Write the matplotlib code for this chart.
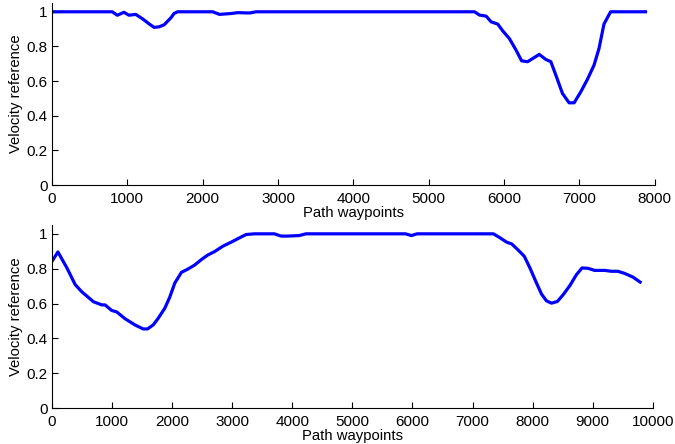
import matplotlib.pyplot as plt
import numpy as np

plt.rcParams["font.family"] = ["Liberation Sans", "DejaVu Sans"]

# Top path: waypoint index vs velocity reference
top_x = [0, 800, 867, 955, 1022, 1111, 1200, 1290, 1356, 1420, 1489, 1578, 1620, 1667,
         2133, 2222, 2378, 2467, 2622, 2711, 5608, 5674, 5762, 5828, 5916, 5982, 6070,
         6159, 6233, 6313, 6467, 6555, 6621, 6687, 6775, 6863, 6930, 7018, 7106, 7194,
         7260, 7326, 7414, 7877]
top_v = [1.0, 1.0, 0.98, 0.997, 0.98, 0.985, 0.96, 0.93, 0.91, 0.913, 0.925, 0.965, 0.99, 1.0,
         1.0, 0.985, 0.99, 0.995, 0.993, 1.0, 1.0, 0.981, 0.975, 0.942, 0.929, 0.89, 0.846,
         0.779, 0.717, 0.712, 0.754, 0.725, 0.712, 0.635, 0.529, 0.475, 0.475, 0.538, 0.61, 0.692,
         0.788, 0.929, 1.0, 1.0]

# Bottom path
bot_x = [0, 99, 249, 387, 497, 691, 829, 884, 994, 1077, 1215, 1381, 1519, 1591, 1685, 1768,
         1878, 1961, 2044, 2155, 2265, 2376, 2486, 2597, 2707, 2845, 2983, 3122, 3232, 3370,
         3702, 3812, 3923, 4116, 4227, 5884, 5983, 6077, 7348, 7459, 7569, 7652, 7751, 7862,
         7956, 8066, 8149, 8232, 8315, 8414, 8508, 8619, 8729, 8823, 8923, 9033, 9199, 9309,
         9420, 9530, 9669, 9790]
bot_v = [0.842, 0.896, 0.804, 0.708, 0.667, 0.61, 0.592, 0.592, 0.56, 0.552, 0.513, 0.477,
         0.454, 0.454, 0.477, 0.515, 0.573, 0.637, 0.717, 0.779, 0.798, 0.821, 0.852, 0.879,
         0.898, 0.929, 0.952, 0.977, 0.996, 1.0, 1.0, 0.987, 0.987, 0.99, 1.0, 1.0, 0.99, 1.0,
         1.0, 0.977, 0.952, 0.942, 0.91, 0.871, 0.804, 0.717, 0.654, 0.615, 0.602, 0.612,
         0.65, 0.702, 0.765, 0.804, 0.802, 0.79, 0.79, 0.785, 0.785, 0.773, 0.752, 0.723]

fig = plt.figure(figsize=(6.75, 4.44), dpi=100)
ax1 = fig.add_axes([0.077, 0.583, 0.893, 0.41])
ax2 = fig.add_axes([0.077, 0.081, 0.890, 0.412])

panels = [(ax1, top_x, top_v, 8000), (ax2, bot_x, bot_v, 10000)]
for ax, x, v, xmax in panels:
    ax.plot(x, v, color=(0, 0, 1), lw=2.3, solid_joinstyle="round")
    ax.set_xlim(0, xmax)
    ax.set_ylim(0, 1.05)
    ax.set_xticks(np.arange(0, xmax + 1, 1000))
    ax.set_yticks(np.arange(0, 1.01, 0.2))
    ax.set_yticklabels(["0", "0.2", "0.4", "0.6", "0.8", "1"])
    ax.spines["top"].set_visible(False)
    ax.spines["right"].set_visible(False)
    for s in ("left", "bottom"):
        ax.spines[s].set_linewidth(0.8)
    ax.tick_params(direction="in", length=4, width=0.8, labelsize=11)
    ax.tick_params(axis="x", pad=5)
    ax.tick_params(axis="y", pad=3)
    ax.set_xlabel("Path waypoints", fontsize=10.7, labelpad=0)
    ax.set_ylabel("Velocity reference", fontsize=10.7, labelpad=3)

fig.savefig("out.png", dpi=100)
